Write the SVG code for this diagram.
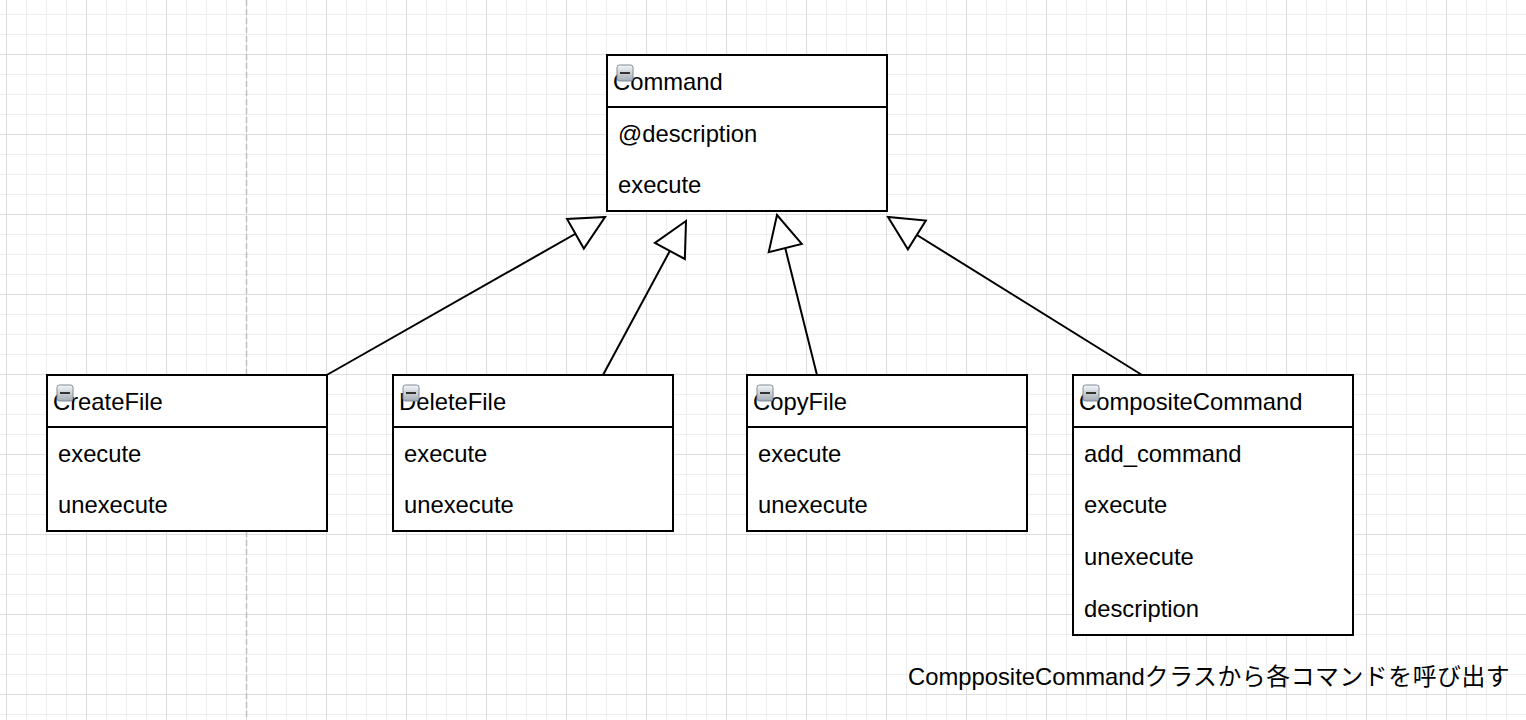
<svg xmlns="http://www.w3.org/2000/svg" width="1526" height="720" viewBox="0 0 1526 720">
<style>
.box{fill:#fff;stroke:#000;stroke-width:2}
.div{stroke:#000;stroke-width:2}
.t{font-family:"Liberation Sans",Arial,"Noto Sans CJK JP",sans-serif;font-size:23.8px;fill:#000}
.edge{fill:none;stroke:#000;stroke-width:2;marker-end:url(#tri)}
.ico{fill:url(#icog);stroke:#7f8a96;stroke-width:1}
.icoBar{stroke:#333;stroke-width:2}
</style>
<defs>
<pattern id="grid" patternUnits="userSpaceOnUse" x="6" y="54" width="80" height="80">
<path d="M20.5 0V80M40.5 0V80M60.5 0V80M0 20.5H80M0 40.5H80M0 60.5H80" stroke="#eeeeee" stroke-width="1" fill="none"/>
<path d="M0.5 0V80M0 0.5H80" stroke="#dedede" stroke-width="1" fill="none"/>
</pattern>
<linearGradient id="icog" x1="0" y1="0" x2="0" y2="1">
<stop offset="0" stop-color="#f4f6f8"/>
<stop offset="1" stop-color="#a4acb4"/>
</linearGradient>
<marker id="tri" markerUnits="userSpaceOnUse" viewBox="-36 -19 38 38" refX="0" refY="0" markerWidth="38" markerHeight="38" orient="auto">
<path d="M0 0L-34 -17L-34 17Z" fill="#fff" stroke="#000" stroke-width="2" stroke-linejoin="miter"/>
</marker>
</defs>
<rect width="1526" height="720" fill="#fff"/>
<rect width="1526" height="720" fill="url(#grid)"/>
<line x1="246.5" y1="0" x2="246.5" y2="720" stroke="#c0c0c0" stroke-width="1.5" stroke-dasharray="6 3"/>

<g id="connectors">
<path class="edge" d="M325 376L605 217"/>
<path class="edge" d="M603 375L686 221"/>
<path class="edge" d="M817 375L777 215"/>
<path class="edge" d="M1142 375L888 217"/>
</g>

<g id="Command">
<rect class="box" x="607" y="55" width="280" height="156"/>
<line class="div" x1="607" y1="107" x2="887" y2="107"/>
<text class="t" x="613" y="89.5">Command</text>
<text class="t" x="618" y="141.5">@description</text>
<text class="t" x="618" y="193.3">execute</text>
<rect class="ico" x="617" y="65" width="16" height="16" rx="2.5"/>
<line class="icoBar" x1="620" y1="73" x2="630" y2="73"/>
</g>

<g id="CreateFile">
<rect class="box" x="47" y="375" width="280" height="156"/>
<line class="div" x1="47" y1="427" x2="327" y2="427"/>
<text class="t" x="53" y="409.5">CreateFile</text>
<text class="t" x="58" y="461.5">execute</text>
<text class="t" x="58" y="513.3">unexecute</text>
<rect class="ico" x="57" y="385" width="16" height="16" rx="2.5"/>
<line class="icoBar" x1="60" y1="393" x2="70" y2="393"/>
</g>

<g id="DeleteFile">
<rect class="box" x="393" y="375" width="280" height="156"/>
<line class="div" x1="393" y1="427" x2="673" y2="427"/>
<text class="t" x="399" y="409.5">DeleteFile</text>
<text class="t" x="404" y="461.5">execute</text>
<text class="t" x="404" y="513.3">unexecute</text>
<rect class="ico" x="403" y="385" width="16" height="16" rx="2.5"/>
<line class="icoBar" x1="406" y1="393" x2="416" y2="393"/>
</g>

<g id="CopyFile">
<rect class="box" x="747" y="375" width="280" height="156"/>
<line class="div" x1="747" y1="427" x2="1027" y2="427"/>
<text class="t" x="753" y="409.5">CopyFile</text>
<text class="t" x="758" y="461.5">execute</text>
<text class="t" x="758" y="513.3">unexecute</text>
<rect class="ico" x="757" y="385" width="16" height="16" rx="2.5"/>
<line class="icoBar" x1="760" y1="393" x2="770" y2="393"/>
</g>

<g id="CompositeCommand">
<rect class="box" x="1073" y="375" width="280" height="260"/>
<line class="div" x1="1073" y1="427" x2="1353" y2="427"/>
<text class="t" x="1079" y="409.5">CompositeCommand</text>
<text class="t" x="1084" y="461.5">add_command</text>
<text class="t" x="1084" y="513.3">execute</text>
<text class="t" x="1084" y="565">unexecute</text>
<text class="t" x="1084" y="616.7">description</text>
<rect class="ico" x="1083" y="385" width="16" height="16" rx="2.5"/>
<line class="icoBar" x1="1086" y1="393" x2="1096" y2="393"/>
</g>

<g id="note">
<text class="t" x="908" y="685">ComppositeCommand<tspan letter-spacing="0.6">クラスから各コマンドを呼び出す</tspan></text>
</g>
</svg>
